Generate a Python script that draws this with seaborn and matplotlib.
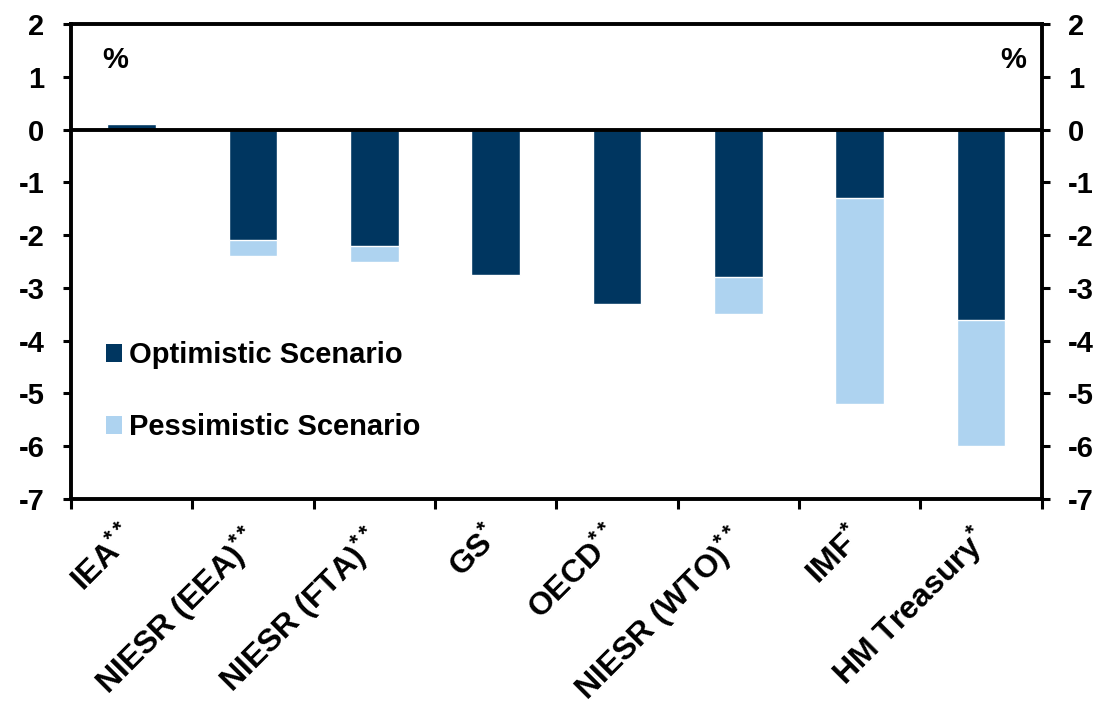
import numpy as np
import pandas as pd
import matplotlib
matplotlib.use("Agg")
import matplotlib.pyplot as plt
import matplotlib.transforms as mtrans
import seaborn as sns
from matplotlib.patches import Patch

categories = ["IEA**", "NIESR (EEA)**", "NIESR (FTA)**", "GS*", "OECD**",
              "NIESR (WTO)**", "IMF*", "HM Treasury*"]
optimistic = [0.1, -2.1, -2.2, -2.75, -3.3, -2.8, -1.3, -3.6]
pessimistic = [np.nan, -2.4, -2.5, np.nan, np.nan, -3.5, -5.2, -6.0]
yticks = list(range(-7, 3))

DARK = "#003660"
LIGHT = "#AED3F0"

sns.set_theme(style="white")
plt.rcParams["font.family"] = ["Liberation Sans", "DejaVu Sans"]
plt.rcParams["font.weight"] = "bold"
plt.rcParams["text.color"] = "black"
plt.rcParams["xtick.color"] = "black"
plt.rcParams["ytick.color"] = "black"
plt.rcParams["mathtext.fontset"] = "custom"
plt.rcParams["mathtext.rm"] = "Liberation Sans:bold"
plt.rcParams["mathtext.bf"] = "Liberation Sans:bold"
plt.rcParams["mathtext.it"] = "Liberation Sans:bold"
plt.rcParams["mathtext.default"] = "rm"


def sup_stars(label):
    base = label.rstrip("*")
    stars = label[len(base):]
    return base + ("$^{" + "*" * len(stars) + "}$" if stars else "")


df = pd.DataFrame({"cat": categories, "opt": optimistic, "pess": pessimistic})

fig = plt.figure(figsize=(11, 7.15), dpi=100)
ax = fig.add_axes([0.0645, 0.3021, 0.8825, 0.6643])

sns.barplot(data=df, x="cat", y="pess", order=categories, color=LIGHT,
            width=0.4, saturation=1, ax=ax, errorbar=None)
sns.barplot(data=df, x="cat", y="opt", order=categories, color=DARK,
            width=0.4, saturation=1, ax=ax, errorbar=None)

ax.axhline(0, color="black", lw=2.8, zorder=5)
ax.set_ylim(-7, 2)
ax.set_xlim(-0.5, len(categories) - 0.5)
ax.set_xlabel("")
ax.set_ylabel("")

for s in ax.spines.values():
    s.set_visible(True)
    s.set_color("black")
    s.set_linewidth(2.8)

ax.set_yticks(yticks)
ax.set_yticklabels([str(v) for v in yticks])
ax.tick_params(axis="y", which="major", left=True, right=True, labelleft=True,
               labelright=True, direction="out", length=6, width=2.2,
               labelsize=21, pad=13, labelcolor="black")

pos = np.arange(len(categories))
ax.set_xticks(np.arange(-0.5, len(categories), 1.0))
ax.set_xticklabels([])
ax.set_xticks(pos, minor=True)
ax.set_xticklabels([sup_stars(c) for c in categories], minor=True, rotation=45,
                   ha="right", rotation_mode="anchor", fontsize=23,
                   fontweight="bold", color="black")
ax.tick_params(axis="x", which="major", bottom=True, direction="out",
               length=7, width=2.2)
ax.tick_params(axis="x", which="minor", bottom=False, length=0, pad=16)
for lbl in ax.get_xticklabels(minor=True):
    lbl.set_transform(lbl.get_transform() +
                      mtrans.ScaledTranslation(-8/72, 0, fig.dpi_scale_trans))

ax.text(0.032, 0.925, "%", transform=ax.transAxes, fontsize=21,
        fontweight="bold", va="center", ha="left", color="black")
ax.text(0.984, 0.925, "%", transform=ax.transAxes, fontsize=21,
        fontweight="bold", va="center", ha="right", color="black")

handles = [Patch(facecolor=DARK, edgecolor="none", label="Optimistic Scenario"),
           Patch(facecolor=LIGHT, edgecolor="none", label="Pessimistic Scenario")]
leg = ax.legend(handles=handles, loc="center left", bbox_to_anchor=(0.036, 0.227),
                frameon=False, fontsize=21, handlelength=0.55, handleheight=0.55,
                handletextpad=0.25, labelspacing=1.5, borderaxespad=0,
                borderpad=0)
for t in leg.get_texts():
    t.set_color("black")

fig.savefig("out.png", dpi=100)
